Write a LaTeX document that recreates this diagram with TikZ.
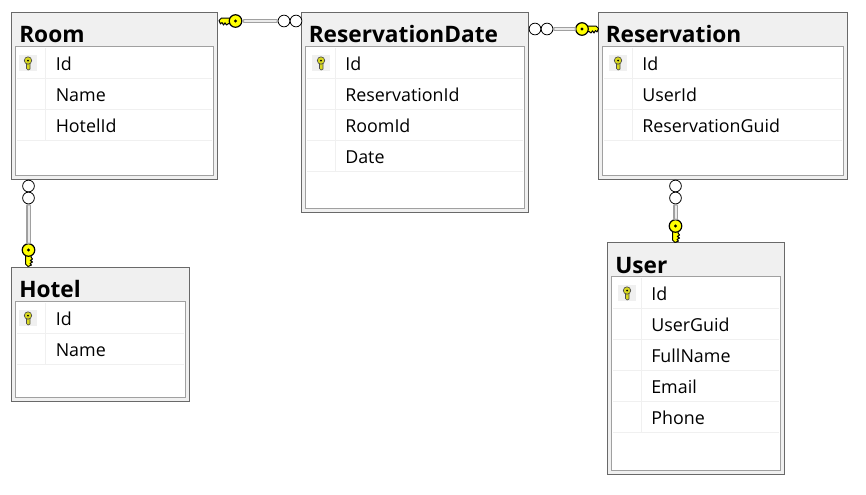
\documentclass[tikz,border=0pt]{standalone}
\usepackage{fontspec}
\setmainfont{Open Sans}
\usetikzlibrary{calc}
\definecolor{panel}{HTML}{F0F0F0}
\definecolor{edgeline}{HTML}{696969}
\definecolor{frameline}{HTML}{A0A0A0}
\definecolor{keyyellow}{HTML}{FFFF00}
\definecolor{smallkey}{HTML}{D8D820}
\tikzset{
  bigkey/.pic={
    \draw[draw=black,fill=keyyellow,line width=0.75pt,line join=round]
      (4,-3) -- (14,-3) -- (16.5,-0.5) -- (15,3) -- (13.5,1.5) -- (12,4) -- (10.5,1.8) -- (9,4) -- (7,2.5) -- (4,3) -- cycle;
  },
  rowkey/.pic={
    \fill[panel] (-9,-8) rectangle (9,8);
    \draw[draw=black!70,fill=smallkey,line width=0.5pt] (-1.5,-1) -- (-1.5,5.5) -- (0,7) -- (2,6) -- (2,-1) -- cycle;
    \draw[draw=black!70,fill=smallkey,line width=0.5pt] (0,-2.5) circle (3.7);
    \fill[black] (0,-2.5) circle (1);
  }
}
\begin{document}
\begin{tikzpicture}[x=0.75pt,y=-0.75pt,>=stealth,
    entity/.style 2 args={draw=edgeline,fill=panel,line width=0.75pt,rectangle,anchor=north west,inner sep=0pt,outer sep=0pt,minimum width=#1*0.75pt,minimum height=#2*0.75pt},
    inframe/.style 2 args={draw=frameline,fill=white,line width=0.75pt,rectangle,anchor=north west,inner sep=0pt,outer sep=0pt,minimum width=#1*0.75pt,minimum height=#2*0.75pt},
    title/.style={anchor=base west,inner sep=0pt,font=\fontsize{17}{20}\selectfont\bfseries},
    field/.style={anchor=base west,inner sep=0pt,font=\fontsize{13.4}{16}\selectfont},
    rowline/.style={draw=panel,line width=0.75pt},
    ring/.style={circle,draw=black,fill=white,line width=0.6pt,inner sep=0pt,minimum size=8.8pt},
    keyhead/.style={circle,draw=black,fill=keyyellow,line width=0.9pt,inner sep=0pt,minimum size=9.4pt},
    bar/.style={draw=frameline,line width=1.1pt,double=black!8,double distance=1.5pt,line cap=round}]
  \useasboundingbox (0,0) rectangle (866,494);

  % Room
  \node[entity={206}{167}] (room) at (11.5,12.5) {};
  \node[inframe={198}{129}] (roomF) at (15.5,46.5) {};
  \foreach \y in {78,109,140} \draw[rowline] (17,\y) -- (212,\y);
  \draw[rowline] (45,48) -- (45,140);
  \pic at (28,63) {rowkey};
  \node[title] (roomT) at (19,42) {Room};
  \node[field] (room1) at (55.5,70) {Id};
  \node[field] (room2) at (55.5,101) {Name};
  \node[field] (room3) at (55.5,132) {HotelId};

  % ReservationDate
  \node[entity={227}{200}] (date) at (301.5,12.5) {};
  \node[inframe={219}{162}] (dateF) at (305.5,46.5) {};
  \foreach \y in {78,109,140,171} \draw[rowline] (307,\y) -- (523,\y);
  \draw[rowline] (335,48) -- (335,171);
  \pic at (321,63) {rowkey};
  \node[title] (dateT) at (308.5,42) {ReservationDate};
  \node[field] (date1) at (345,70) {Id};
  \node[field] (date2) at (345,101) {ReservationId};
  \node[field] (date3) at (345,132) {RoomId};
  \node[field] (date4) at (345,163) {Date};

  % Reservation
  \node[entity={249}{167}] (resv) at (598.5,12.5) {};
  \node[inframe={241}{129}] (resvF) at (602.5,46.5) {};
  \foreach \y in {78,109,140} \draw[rowline] (604,\y) -- (842,\y);
  \draw[rowline] (632,48) -- (632,140);
  \pic at (618,63) {rowkey};
  \node[title] (resvT) at (605.5,42) {Reservation};
  \node[field] (resv1) at (642,70) {Id};
  \node[field] (resv2) at (642,101) {UserId};
  \node[field] (resv3) at (642,132) {ReservationGuid};

  % Hotel
  \node[entity={178}{134}] (hotel) at (11.5,267.5) {};
  \node[inframe={170}{96}] (hotelF) at (15.5,301.5) {};
  \foreach \y in {333,364} \draw[rowline] (17,\y) -- (184,\y);
  \draw[rowline] (45,303) -- (45,364);
  \pic at (28,318) {rowkey};
  \node[title] (hotelT) at (19,297) {Hotel};
  \node[field] (hotel1) at (55.5,325) {Id};
  \node[field] (hotel2) at (55.5,356) {Name};

  % User
  \node[entity={177}{232}] (user) at (607.5,242.5) {};
  \node[inframe={169}{194}] (userF) at (611.5,276.5) {};
  \foreach \y in {308,339,370,401,432} \draw[rowline] (613,\y) -- (779,\y);
  \draw[rowline] (641,278) -- (641,432);
  \pic at (627,293) {rowkey};
  \node[title] (userT) at (615,273) {User};
  \node[field] (user1) at (651,300) {Id};
  \node[field] (user2) at (651,331) {UserGuid};
  \node[field] (user3) at (651,362) {FullName};
  \node[field] (user4) at (651,393) {Email};
  \node[field] (user5) at (651,424) {Phone};

  % Room -- ReservationDate
  \pic[xscale=-1] at (235.5,21) {bigkey};
  \node[keyhead] (k1) at (235.5,21) {};
  \fill (k1) circle (1.7);
  \node[ring] (r1a) at (296,21) {};
  \node[ring] (r1b) at (284,21) {};
  \draw[bar] (k1) ++(9,0) coordinate (k1e) (r1b) ++(-8,0) coordinate (r1e) (k1e) -- (r1e);

  % ReservationDate -- Reservation
  \pic at (582,29) {bigkey};
  \node[keyhead] (k2) at (582,29) {};
  \fill (k2) circle (1.7);
  \node[ring] (r2a) at (535,29) {};
  \node[ring] (r2b) at (547,29) {};
  \draw[bar] (k2) ++(-8,0) coordinate (k2e) (r2b) ++(8,0) coordinate (r2e) (k2e) -- (r2e);

  % Room -- Hotel
  \pic[rotate=-90,yscale=-1] at (28.5,250) {bigkey};
  \node[keyhead] (k3) at (28.5,250) {};
  \fill (k3) circle (1.7);
  \node[ring] (r3a) at (28.5,186) {};
  \node[ring] (r3b) at (28.5,198) {};
  \draw[bar] (k3) ++(0,-8) coordinate (k3e) (r3b) ++(0,8) coordinate (r3e) (k3e) -- (r3e);

  % Reservation -- User
  \pic[rotate=-90,yscale=-1] at (675.5,226) {bigkey};
  \node[keyhead] (k4) at (675.5,226) {};
  \fill (k4) circle (1.7);
  \node[ring] (r4a) at (675.5,186) {};
  \node[ring] (r4b) at (675.5,198) {};
  \draw[bar] (k4) ++(0,-8) coordinate (k4e) (r4b) ++(0,8) coordinate (r4e) (k4e) -- (r4e);
\end{tikzpicture}
\end{document}
